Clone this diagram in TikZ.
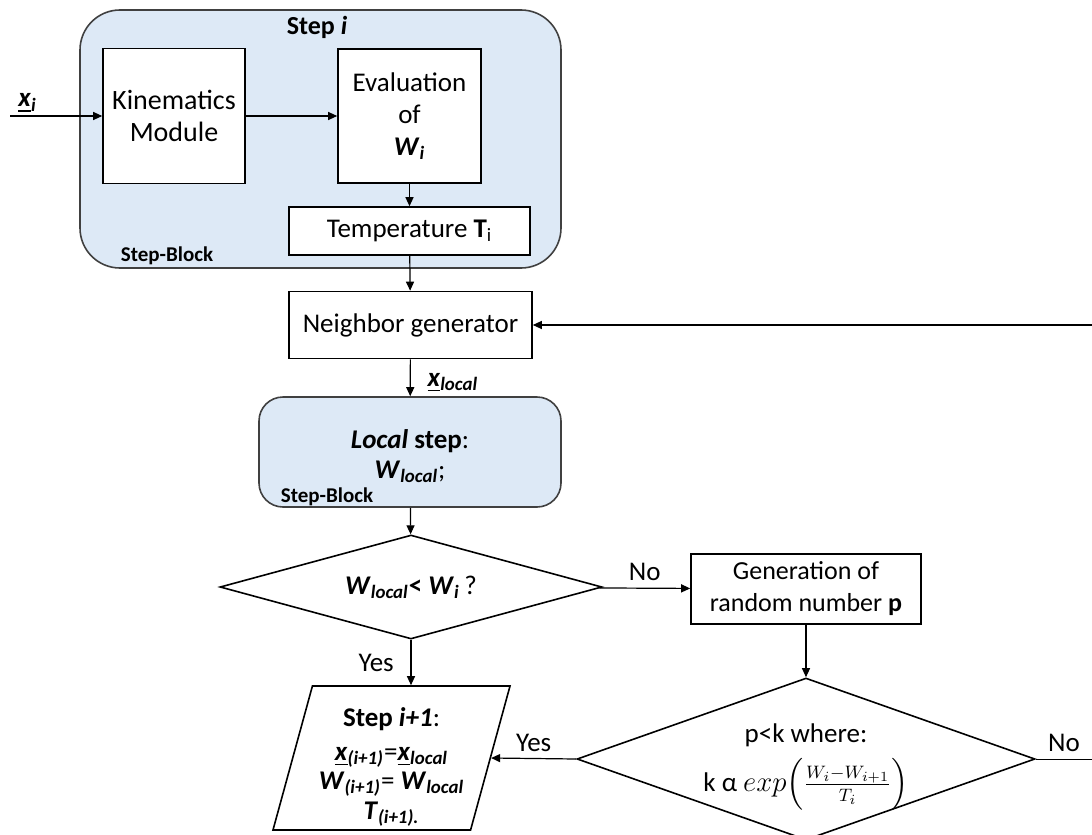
\documentclass[tikz,border=0pt]{standalone}
\usepackage{amsmath}
\usepackage{fontspec}
\setmainfont{Carlito}
\usepackage{xcolor}
\usetikzlibrary{shapes.geometric,arrows.meta,positioning,calc}

\definecolor{stepblue}{RGB}{221,233,246}
\newcommand{\bi}[1]{\textbf{\textit{#1}}}
\newcommand{\vecx}[1]{\underline{\bi{x}}\textsubscript{\bi{#1}}}
\newcommand{\Wsub}[1]{\bi{W}\textsubscript{\bi{#1}}}

\begin{document}
\begin{tikzpicture}[x=0.5pt, y=-0.5pt,
    font=\fontsize{13.5}{16}\selectfont,
    stepblock/.style={draw=black!75, fill=stepblue, line width=0.8pt},
    box/.style={rectangle, draw, fill=white, line width=0.8pt, align=center, inner sep=1pt},
    decision/.style={diamond, draw, fill=white, line width=0.8pt, align=center, inner sep=0pt},
    blocklabel/.style={font=\fontsize{10.5}{12}\selectfont\bfseries},
    arrow/.style={-{Triangle[length=4.5pt,width=4pt]}, line width=0.6pt}]

    \useasboundingbox (0,0) rectangle (1092,835);

    % step i and its modules
    \node[stepblock, rounded corners=20pt, minimum width=240.5pt, minimum height=129pt] (stepi) at (320.5,139) {};
    \node[font=\fontsize{13}{15}\selectfont\bfseries] (stepititle) at (317,27) {Step \textit{i}};
    \node[blocklabel] (stepilabel) at (167,256) {Step-Block};

    \node[box, minimum width=71pt, minimum height=67.5pt, font=\fontsize{14}{16}\selectfont] (kin) at (174,116) {Kinematics\\Module};
    \node[box, minimum width=71.5pt, minimum height=67pt] (evalw) at (409.5,116) {Evaluation\\of\\\Wsub{i}};
    \node[box, minimum width=120.5pt, minimum height=24pt] (temp) at (409.5,231) {Temperature \textbf{T}\textsubscript{i}};

    \node[box, minimum width=121.5pt, minimum height=33.5pt] (neigh) at (410.5,325) {Neighbor generator};

    % local step
    \node[stepblock, rounded corners=12pt, minimum width=151pt, minimum height=55pt] (localstep) at (410,452) {};
    \node[align=center] (localtext) at (410,456) {\bi{Local} \textbf{step}:\\[-1pt] \Wsub{local};};
    \node[blocklabel] (locallabel) at (327,497) {Step-Block};

    % decisions
    \node[decision, aspect=3.67, minimum width=191pt, minimum height=52pt] (dec1) at (411,587)
        {\Wsub{local}\textbf{<} \Wsub{i}\,?};
    \node[box, minimum width=115pt, minimum height=35pt, font=\fontsize{13}{16}\selectfont] (gen) at (806,589)
        {Generation of\\random number \textbf{p}};
    \node[decision, aspect=2.83, minimum width=229pt, minimum height=81pt] (dec2) at (806,759) {};
    \node[align=center] (dec2text) at (806,767) {p<k where:\\[5pt] k α $exp\Bigl(\frac{W_i-W_{i+1}}{T_i}\Bigr)$};

    % step i+1
    \node[trapezium, trapezium left angle=76, trapezium right angle=104, trapezium stretches=true,
        draw, fill=white, line width=0.8pt, minimum width=118.5pt, minimum height=72pt] (nextstep) at (391.5,758) {};
    \node[align=center] (nexttext) at (391.5,767)
        {\textbf{Step \textit{i+1}}:\\[1pt] \vecx{(i+1)}=\vecx{local}\\[-1.5pt] \Wsub{(i+1)}= \Wsub{local}\\[-1pt] \bi{T}\textsubscript{\bi{(i+1).}}};

    \coordinate (xin) at (10,116);
    \coordinate (fbin) at (1092,325);
    \coordinate (fbout) at (1092,759);

    % connectors
    \draw[arrow] (xin) -- node[above, pos=0.19, yshift=-2pt] {\vecx{i}} (kin);
    \draw[arrow] (kin) -- (evalw);
    \draw[arrow] (evalw) -- (temp);
    \draw[arrow] (temp) -- (neigh);
    \draw[arrow] (fbin) -- (neigh);
    \draw[arrow] (neigh) -- node[right, xshift=5pt, yshift=-2.5pt] {\vecx{local}} (localstep);
    \draw[arrow] (localstep) -- (dec1);
    \draw[arrow] (dec1) -- node[above] {No} (gen);
    \draw[arrow] (dec1.south) -- node[left, xshift=-5pt] {Yes} (dec1.south |- nextstep.north);
    \draw[arrow] (gen) -- (dec2);
    \draw[arrow] (dec2.west) -- node[above] {Yes} (nextstep.east);
    \draw (dec2.east) -- node[above] {No} (fbout);
\end{tikzpicture}
\end{document}
